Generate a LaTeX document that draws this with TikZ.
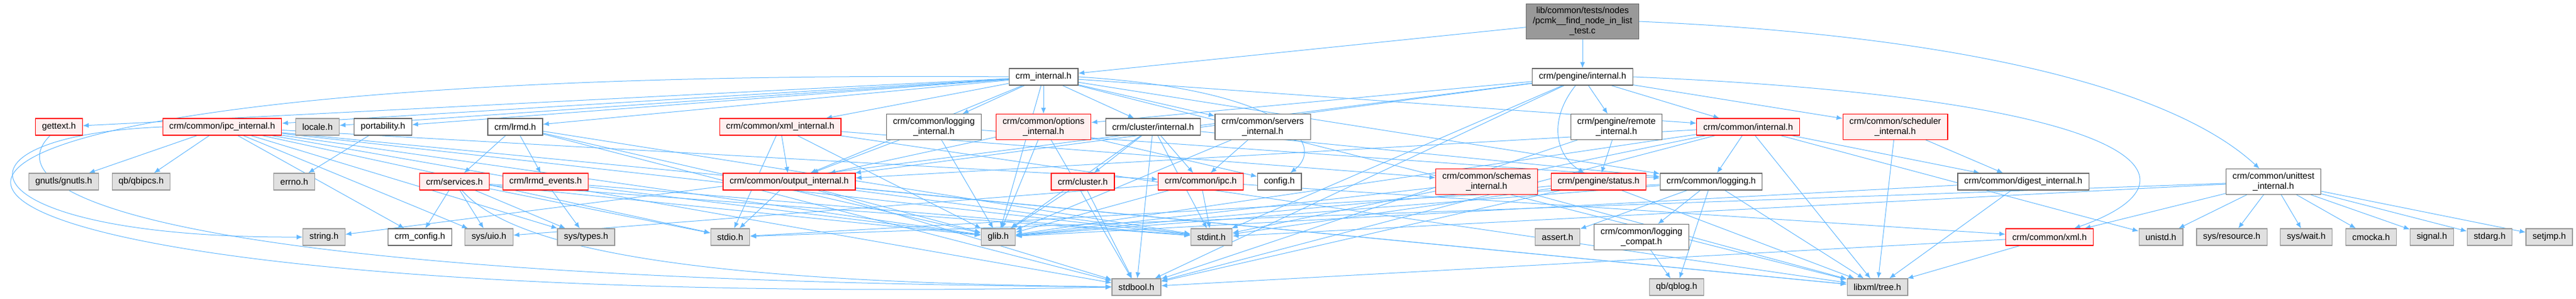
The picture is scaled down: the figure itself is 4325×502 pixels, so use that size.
\documentclass[tikz,border=0pt]{standalone}
\usepackage{fontspec}
\setmainfont{Liberation Sans}
\usepackage{xcolor}
\usepackage{tikz}
\usetikzlibrary{shapes.geometric, arrows.meta, positioning, backgrounds}

\definecolor{edgeblue}{HTML}{63B8FF}
\definecolor{redfill}{HTML}{FFF0F0}
\definecolor{grayfill}{HTML}{E0E0E0}
\definecolor{grayline}{HTML}{999999}
\definecolor{darkline}{HTML}{666666}

\begin{document}
\begin{tikzpicture}[x=1pt, y=-1pt, font=\fontsize{14.8}{17}\selectfont]
\tikzstyle{hdr} = [rectangle, draw=darkline, fill=white, line width=1.2pt, align=center, inner xsep=11pt, inner ysep=6pt, minimum height=28pt]
\tikzstyle{trunc} = [hdr, draw=red, fill=redfill]
\tikzstyle{sys} = [hdr, draw=grayline, fill=grayfill]
\tikzstyle{top} = [hdr, fill=grayline]
\tikzstyle{dep} = [draw=edgeblue, line width=1pt, -{Latex[length=10pt, width=8pt]}]

\useasboundingbox (0,0) rectangle (4325,502);

\node (tst) [top] at (2657,36) {lib/common/tests/nodes\\/pcmk\_\_find\_node\_in\_list\\\_test.c};

\node (cint) [hdr] at (1752,129) {crm\_internal.h};
\node (peint) [hdr] at (2657,129) {crm/pengine/internal.h};

\node (gettext) [trunc] at (99,213) {gettext.h};
\node (ipcint) [trunc] at (373,213) {crm/common/ipc\_internal.h};
\node (locale) [sys] at (533,213) {locale.h};
\node (portab) [hdr] at (643,213) {portability.h};
\node (lrmd) [hdr] at (865,213) {crm/lrmd.h};
\node (xmlint) [trunc] at (1310,213) {crm/common/xml\_internal.h};
\node (logint) [hdr] at (1568,213) {crm/common/logging\\\_internal.h};
\node (optint) [trunc] at (1752,213) {crm/common/options\\\_internal.h};
\node (clint) [hdr] at (1936,213) {crm/cluster/internal.h};
\node (srvint) [hdr] at (2120,213) {crm/common/servers\\\_internal.h};
\node (remint) [hdr] at (2714,213) {crm/pengine/remote\\\_internal.h};
\node (cmnint) [trunc] at (2935,213) {crm/common/internal.h};
\node (schint) [trunc] at (3182,213) {crm/common/scheduler\\\_internal.h};

\node (gnutls) [sys] at (107,305) {gnutls/gnutls.h};
\node (qbipcs) [sys] at (237,305) {qb/qbipcs.h};
\node (errno) [sys] at (494,305) {errno.h};
\node (services) [trunc] at (763,305) {crm/services.h};
\node (lrmdev) [trunc] at (916,305) {crm/lrmd\_events.h};
\node (outint) [trunc] at (1325,305) {crm/common/output\_internal.h};
\node (cluster) [trunc] at (1818,305) {crm/cluster.h};
\node (ipc) [trunc] at (2016,305) {crm/common/ipc.h};
\node (config) [hdr] at (2148,305) {config.h};
\node (schemas) [trunc] at (2496,305) {crm/common/schemas\\\_internal.h};
\node (status) [trunc] at (2684,305) {crm/pengine/status.h};
\node (logging) [hdr] at (2873,305) {crm/common/logging.h};
\node (digest) [hdr] at (3397,305) {crm/common/digest\_internal.h};
\node (unit) [hdr] at (3817,305) {crm/common/unittest\\\_internal.h};

\node (string) [sys] at (544,398) {string.h};
\node (crmcfg) [hdr] at (705,398) {crm\_config.h};
\node (sysuio) [sys] at (821,398) {sys/uio.h};
\node (systypes) [sys] at (984,398) {sys/types.h};
\node (stdio) [sys] at (1226,398) {stdio.h};
\node (glib) [sys] at (1676,398) {glib.h};
\node (stdint) [sys] at (2034,398) {stdint.h};
\node (assert) [sys] at (2615,398) {assert.h};
\node (logcompat) [hdr] at (2756,398) {crm/common/logging\\\_compat.h};
\node (xml) [trunc] at (3441,398) {crm/common/xml.h};
\node (unistd) [sys] at (3628,398) {unistd.h};
\node (sysres) [sys] at (3747,398) {sys/resource.h};
\node (syswait) [sys] at (3872,398) {sys/wait.h};
\node (cmocka) [sys] at (3981,398) {cmocka.h};
\node (signal) [sys] at (4083,398) {signal.h};
\node (stdarg) [sys] at (4180,398) {stdarg.h};
\node (setjmp) [sys] at (4280,398) {setjmp.h};

\node (stdbool) [sys] at (1908,482) {stdbool.h};
\node (qblog) [sys] at (2815,482) {qb/qblog.h};
\node (libxml) [sys] at (3152,482) {libxml/tree.h};

\begin{scope}[on background layer]
\draw[dep] (tst) -- (cint);
\draw[dep] (tst) -- (peint);
\draw[dep] (tst.east) .. controls (3300,60) and (3650,150) .. (unit);
\foreach \dst in {gettext,ipcint,locale,portab,lrmd,xmlint,logint,optint,clint,srvint,outint,cmnint,logging,glib,libxml}
  \draw[dep] (cint) -- (\dst);
\draw[dep] (cint.west) .. controls (-650,110) and (-480,530) .. (stdbool.west);
\draw[dep] (cint.east) .. controls (2150,150) and (2230,240) .. (config);
\foreach \dst in {optint,outint,cmnint,schint,remint,string,stdint,stdbool}
  \draw[dep] (peint) -- (\dst);
\draw[dep] (peint) .. controls (2600,200) and (2610,260) .. (status);
\draw[dep] (peint.east) .. controls (3600,165) and (3720,300) .. (xml);
\foreach \dst in {xml,unistd,sysres,syswait,cmocka,signal,stdarg,setjmp,stdio,stdint}
  \draw[dep] (unit) -- (\dst);
\foreach \dst in {gnutls,qbipcs,crmcfg,sysuio,systypes,stdio,stdint,stdbool,glib,ipc,libxml}
  \draw[dep] (ipcint) -- (\dst);
\draw[dep] (ipcint.west) .. controls (-120,230) and (-60,400) .. (string.west);
\draw[dep] (gettext) .. controls (-20,330) and (300,470) .. (stdbool);
\draw[dep] (portab) -- (errno);
\foreach \dst in {services,lrmdev,stdbool,glib,stdint}
  \draw[dep] (lrmd) -- (\dst);
\foreach \dst in {crmcfg,sysuio,systypes,stdio,stdint,glib}
  \draw[dep] (services) -- (\dst);
\draw[dep] (services) .. controls (880,440) and (1300,475) .. (stdbool);
\foreach \dst in {systypes,glib,stdint}
  \draw[dep] (lrmdev) -- (\dst);
\foreach \dst in {outint,stdio,schemas,libxml,glib}
  \draw[dep] (xmlint) -- (\dst);
\foreach \dst in {outint,glib,logging}
  \draw[dep] (logint) -- (\dst);
\foreach \dst in {outint,glib,stdbool,config}
  \draw[dep] (optint) -- (\dst);
\foreach \dst in {cluster,ipc,stdbool,glib,stdint,logging}
  \draw[dep] (clint) -- (\dst);
\foreach \dst in {ipc,glib}
  \draw[dep] (srvint) -- (\dst);
\foreach \dst in {stdio,glib,stdbool,libxml,stdint}
  \draw[dep] (outint) -- (\dst);
\foreach \dst in {glib,stdbool}
  \draw[dep] (cluster) -- (\dst);
\foreach \dst in {stdint,sysuio,xml,glib}
  \draw[dep] (ipc) -- (\dst);
\foreach \dst in {logging,digest,libxml,unistd,stdbool,glib,stdint,outint}
  \draw[dep] (cmnint) -- (\dst);
\foreach \dst in {digest,libxml}
  \draw[dep] (schint) -- (\dst);
\foreach \dst in {status,stdbool}
  \draw[dep] (remint) -- (\dst);
\foreach \dst in {glib,stdbool,libxml,stdint}
  \draw[dep] (status) -- (\dst);
\foreach \dst in {glib,libxml}
  \draw[dep] (schemas) -- (\dst);
\foreach \dst in {logcompat,qblog,libxml,glib,stdio,assert}
  \draw[dep] (logging) -- (\dst);
\draw[dep] (logcompat) -- (qblog);
\foreach \dst in {libxml,glib}
  \draw[dep] (digest) -- (\dst);
\foreach \dst in {libxml,stdbool}
  \draw[dep] (xml) -- (\dst);
\end{scope}
\end{tikzpicture}
\end{document}
